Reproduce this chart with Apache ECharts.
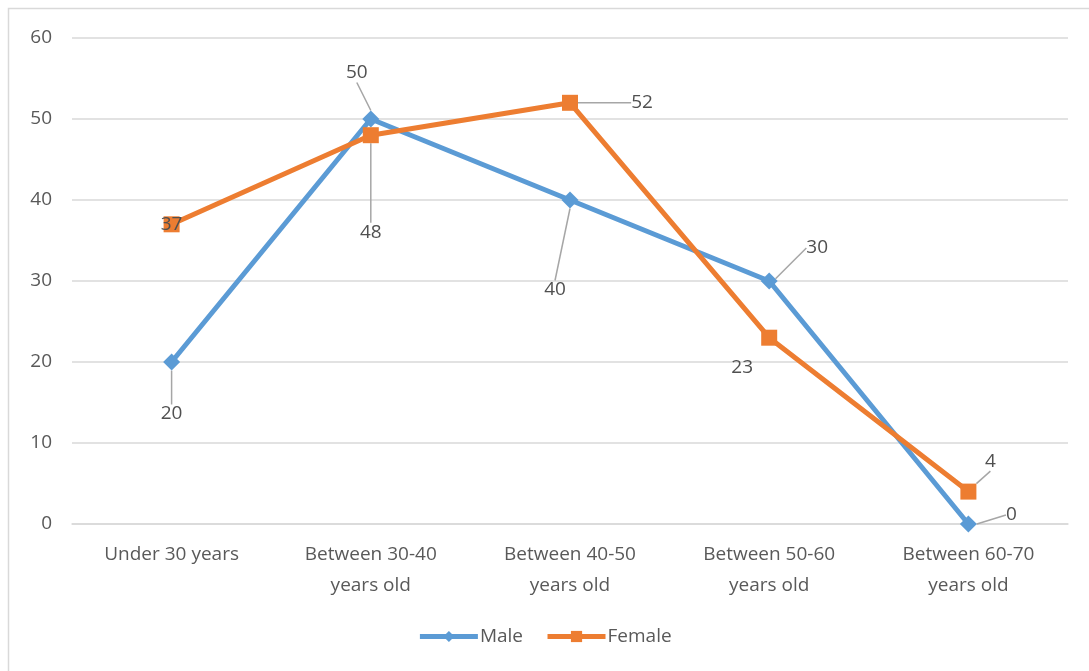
<!DOCTYPE html>
<html>
<head>
<meta charset="utf-8">
<script src="https://cdn.jsdelivr.net/npm/echarts@6/dist/echarts.min.js"></script>
<style>
  html, body { margin: 0; padding: 0; background: #fff; }
  #chart { width: 1089px; height: 671px; }
</style>
</head>
<body>
<div id="chart"></div>
<script>
// Age groups and respondent counts by gender
const categories = ['Under 30 years', 'Between 30-40\nyears old', 'Between 40-50\nyears old', 'Between 50-60\nyears old', 'Between 60-70\nyears old'];
const maleValues = [20, 50, 40, 30, 0];
const femaleValues = [37, 48, 52, 23, 4];
const yTicks = [0, 10, 20, 30, 40, 50, 60];

// Offsets (px) that move each value label away from its marker
const maleLabelShift = [[0, 52], [-14, -46], [-15, 90], [48, -33], [43, -9]];
const femaleLabelShift = [[0, 0], [0, 97], [72, 0], [-27, 30], [22, -30]];
// Labels drawn without a leader line
const maleNoLeader = [];
const femaleNoLeader = [0, 3];

const textColor = '#595959';
const font = 'Open Sans';

const chart = echarts.init(document.getElementById('chart'), null, { renderer: 'canvas' });

function makeSeries(name, values, color, symbol, symbolSize, shifts, noLeader) {
  return {
    name: name,
    type: 'line',
    data: values.map(function (v, i) {
      return noLeader.indexOf(i) >= 0 ? { value: v, labelLine: { show: false } } : v;
    }),
    symbol: symbol,
    symbolSize: symbolSize,
    showAllSymbol: true,
    lineStyle: { color: color, width: 5 },
    itemStyle: { color: color },
    label: {
      show: true,
      position: 'inside',
      color: '#505050',
      fontFamily: font,
      fontSize: 19
    },
    labelLine: {
      show: true,
      lineStyle: { color: '#a6a6a6', width: 1.5 }
    },
    labelLayout: function (p) {
      const s = shifts[p.dataIndex];
      return { dx: s[0], dy: s[1] };
    },
    emphasis: { disabled: true },
    animation: false,
    z: name === 'Female' ? 3 : 2
  };
}

chart.setOption({
  backgroundColor: '#fff',
  animation: false,
  graphic: [{
    type: 'rect',
    shape: { x: 8.5, y: 8.5, width: 1200, height: 800 },
    style: { fill: 'none', stroke: '#d9d9d9', lineWidth: 1.5 },
    silent: true,
    z: -1
  }],
  grid: { left: 72, right: 21, top: 38, bottom: 147 },
  legend: {
    data: ['Male', 'Female'],
    bottom: 20,
    left: 'center',
    itemWidth: 58,
    itemHeight: 14,
    itemGap: 22,
    lineStyle: { width: 5 },
    textStyle: { color: textColor, fontFamily: font, fontSize: 19, padding: [0, 0, 0, -3] }
  },
  xAxis: {
    type: 'category',
    data: categories,
    boundaryGap: true,
    axisLine: { show: true, lineStyle: { color: '#d9d9d9', width: 1.5 } },
    axisTick: { show: false },
    axisLabel: {
      color: textColor,
      fontFamily: font,
      fontSize: 19,
      lineHeight: 31,
      margin: 15,
      interval: 0
    }
  },
  yAxis: {
    type: 'value',
    min: yTicks[0],
    max: yTicks[yTicks.length - 1],
    interval: 10,
    axisLine: { show: false },
    axisTick: { show: false },
    splitLine: { lineStyle: { color: '#d9d9d9', width: 1.5 } },
    axisLabel: { color: textColor, fontFamily: font, fontSize: 19, margin: 20 }
  },
  series: [
    makeSeries('Male', maleValues, '#5b9bd5', 'diamond', 17, maleLabelShift, maleNoLeader),
    makeSeries('Female', femaleValues, '#ed7d31', 'rect', 16, femaleLabelShift, femaleNoLeader)
  ]
});
</script>
</body>
</html>
